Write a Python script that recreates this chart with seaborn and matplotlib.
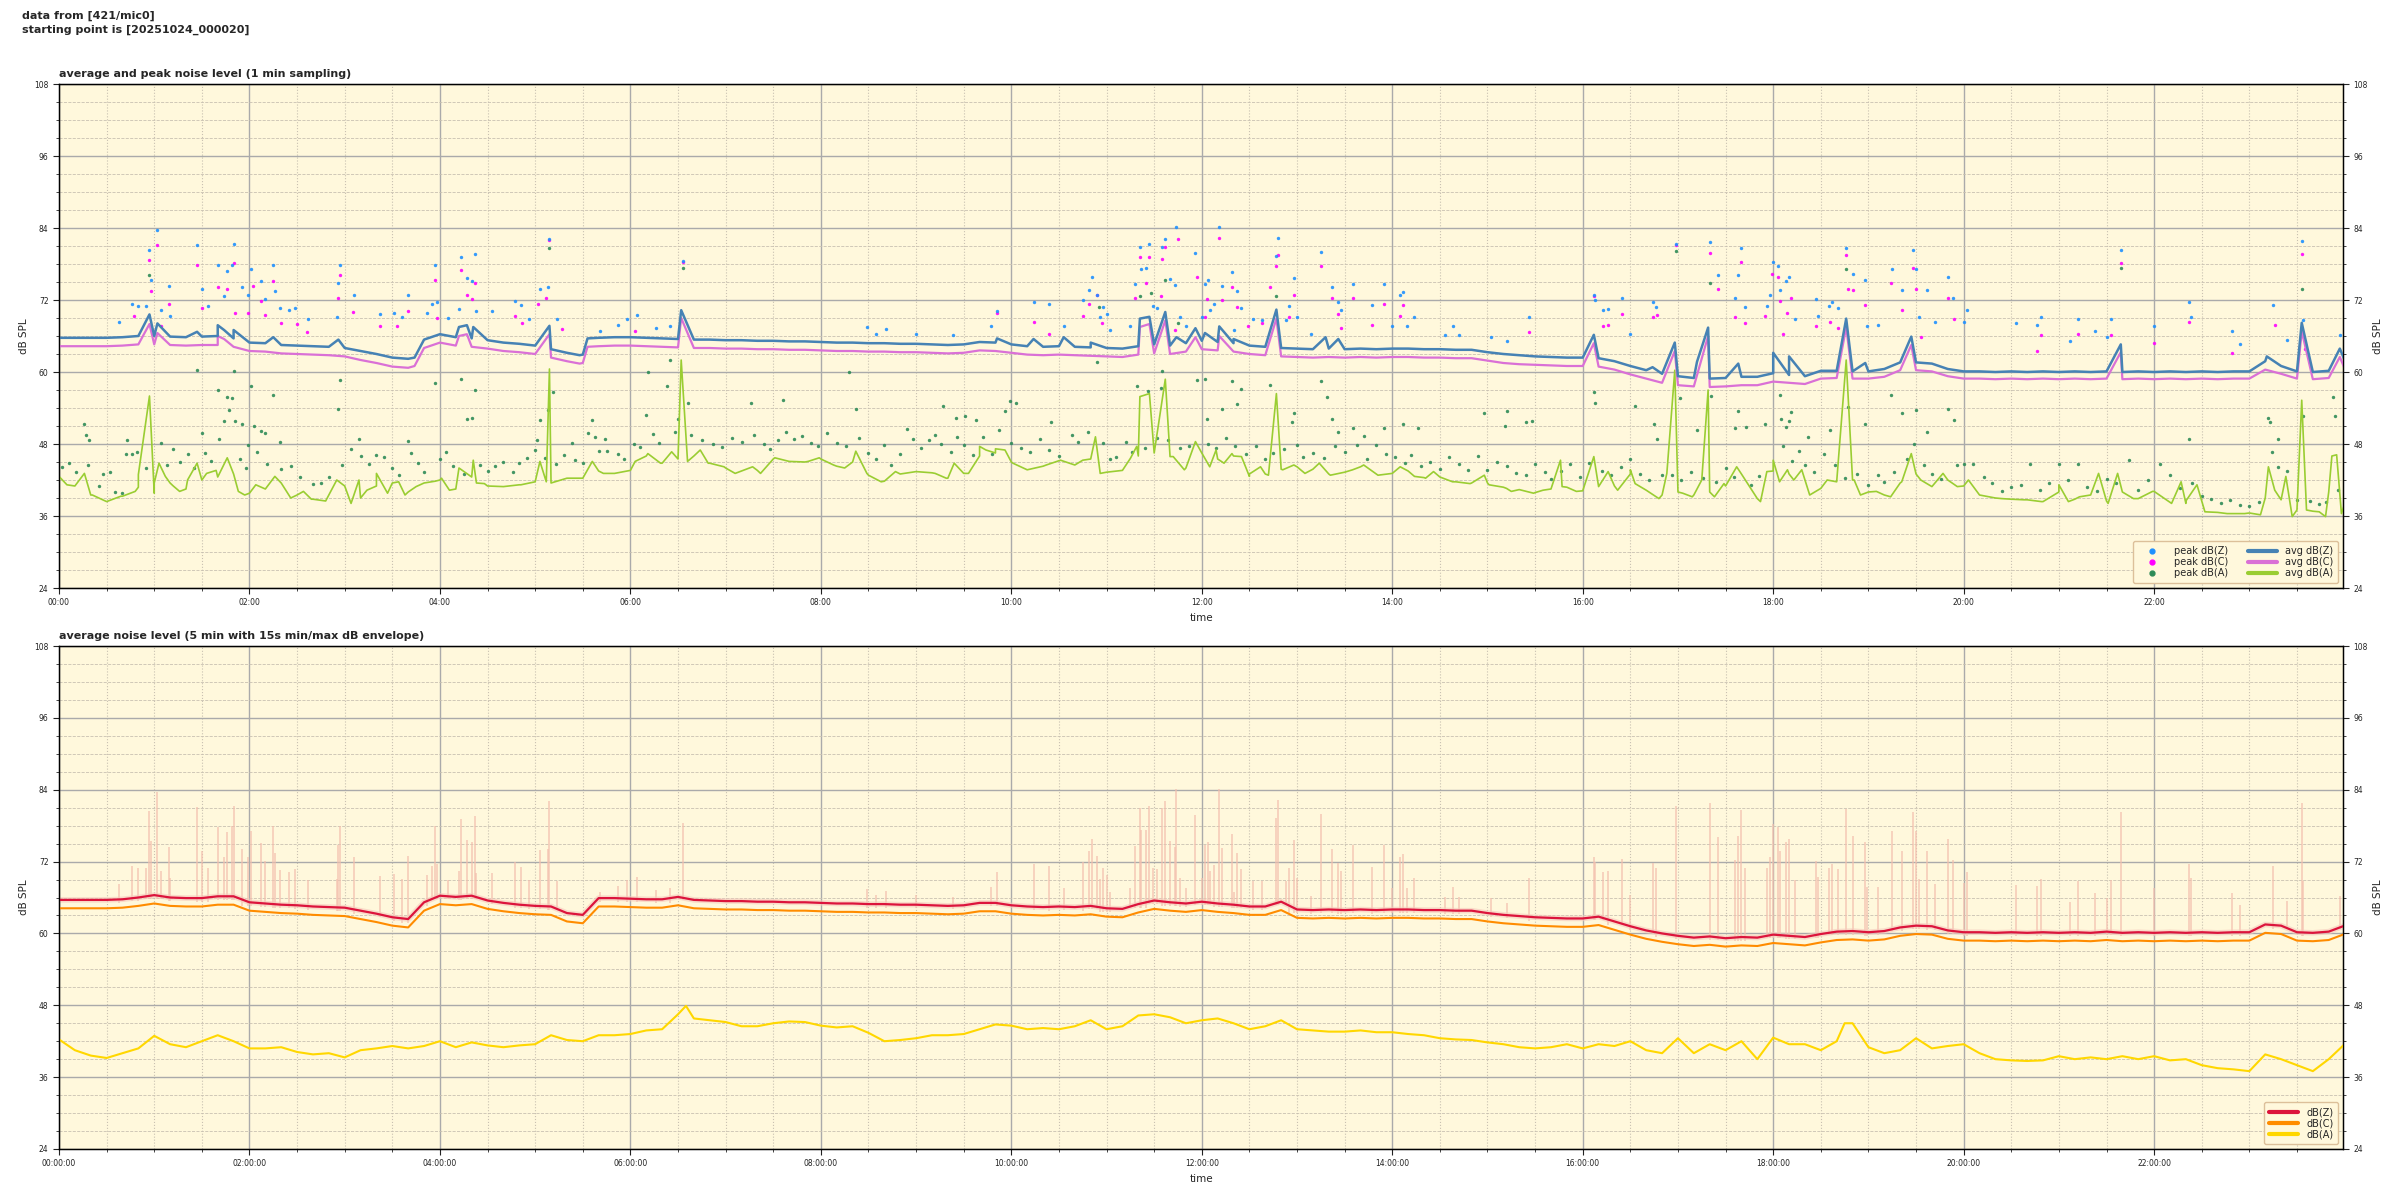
import numpy as np
import pandas as pd
import matplotlib
matplotlib.use("Agg")
import matplotlib.pyplot as plt
import seaborn as sns
from matplotlib.lines import Line2D
from matplotlib.ticker import MultipleLocator, FuncFormatter

# ---------------------------------------------------------------- data
# grid of minutes since the starting point (every 10 min)
GRID_T = list(range(0, 1441, 10))

# 1 min averages, read every 10 min (top panel)
AVG_Z = [65.7, 65.7, 65.7, 65.7, 65.8, 66.0, 66.0, 65.9, 65.8, 65.9,
         66.0, 65.6, 64.9, 64.8, 64.5, 64.4, 64.3, 64.2, 64.0, 63.5,
         63.0, 62.4, 62.2, 65.4, 66.3, 65.8, 65.6, 65.3, 64.9, 64.7,
         64.4, 63.8, 63.2, 62.9, 65.7, 65.8, 65.8, 65.7, 65.6, 65.5,
         65.4, 65.4, 65.3, 65.3, 65.2, 65.2, 65.1, 65.1, 65.0, 64.9,
         64.9, 64.8, 64.8, 64.7, 64.7, 64.6, 64.5, 64.6, 65.0, 64.9,
         64.6, 64.3, 64.2, 64.3, 64.2, 64.1, 64.0, 63.9, 64.3, 64.6,
         64.4, 64.8, 65.2, 65.0, 64.8, 64.4, 64.2, 64.0, 63.9, 63.8,
         63.9, 63.8, 63.9, 63.8, 63.9, 63.9, 63.8, 63.8, 63.7, 63.7,
         63.3, 63.0, 62.8, 62.6, 62.5, 62.4, 62.4, 62.3, 61.8, 61.0,
         60.3, 59.7, 59.3, 59.0, 58.9, 59.0, 59.2, 59.2, 59.8, 59.5,
         59.3, 60.2, 60.2, 60.1, 60.1, 60.5, 61.6, 61.6, 61.4, 60.5,
         60.1, 60.1, 60.0, 60.1, 60.0, 60.1, 60.0, 60.1, 60.0, 60.1,
         60.0, 60.1, 60.0, 60.1, 60.0, 60.1, 60.0, 60.1, 60.1, 61.8,
         61.0, 60.1, 60.0, 60.2, 62.0]
AVG_C = [64.3, 64.3, 64.3, 64.3, 64.4, 64.6, 64.6, 64.5, 64.4, 64.5,
         64.5, 64.2, 63.5, 63.4, 63.1, 63.0, 62.9, 62.8, 62.6, 62.0,
         61.5, 60.9, 60.7, 64.0, 64.9, 64.4, 64.2, 63.9, 63.5, 63.3,
         63.0, 62.4, 61.8, 61.5, 64.3, 64.4, 64.4, 64.3, 64.2, 64.1,
         64.0, 64.0, 63.9, 63.9, 63.8, 63.8, 63.7, 63.7, 63.6, 63.5,
         63.5, 63.4, 63.4, 63.3, 63.3, 63.2, 63.1, 63.2, 63.6, 63.5,
         63.2, 62.9, 62.8, 62.9, 62.8, 62.7, 62.6, 62.5, 62.9, 63.1,
         63.0, 63.4, 63.8, 63.6, 63.4, 63.0, 62.8, 62.6, 62.5, 62.4,
         62.5, 62.4, 62.5, 62.4, 62.5, 62.5, 62.4, 62.4, 62.3, 62.3,
         61.9, 61.5, 61.3, 61.2, 61.1, 61.0, 61.0, 60.9, 60.4, 59.6,
         58.9, 58.2, 57.8, 57.6, 57.5, 57.6, 57.8, 57.8, 58.4, 58.2,
         58.0, 58.9, 59.0, 58.9, 58.9, 59.2, 60.3, 60.3, 60.1, 59.3,
         58.9, 58.9, 58.8, 58.9, 58.8, 58.9, 58.8, 58.9, 58.8, 58.9,
         58.8, 58.9, 58.8, 58.9, 58.8, 58.9, 58.8, 58.9, 58.9, 60.4,
         59.7, 58.9, 58.8, 59.0, 60.6]
AVG_A = [42.6, 41.0, 39.5, 38.4, 39.3, 40.8, 41.5, 41.5, 40.5, 42.0,
         42.5, 43.0, 39.8, 40.5, 41.5, 39.5, 38.8, 39.5, 41.0, 39.0,
         41.0, 41.5, 40.0, 41.5, 42.0, 40.5, 42.5, 41.0, 40.9, 41.2,
         41.7, 41.5, 42.3, 42.3, 43.5, 43.1, 43.6, 46.0, 44.8, 45.5,
         46.0, 44.8, 44.0, 43.5, 43.6, 45.5, 45.1, 45.0, 45.5, 44.3,
         45.0, 42.8, 41.8, 43.0, 43.4, 43.2, 42.3, 43.1, 46.0, 46.5,
         45.0, 43.7, 44.3, 45.2, 44.5, 45.5, 43.3, 43.6, 46.0, 46.5,
         45.9, 44.0, 46.5, 45.5, 46.0, 43.0, 43.0, 43.8, 44.2, 43.8,
         43.0, 43.3, 44.2, 43.0, 43.1, 43.5, 42.4, 42.5, 41.7, 41.5,
         41.5, 40.8, 40.4, 39.9, 40.5, 40.8, 40.2, 40.9, 41.0, 43.0,
         40.3, 39.5, 40.0, 39.5, 40.0, 41.0, 43.0, 38.9, 43.5, 43.0,
         42.0, 40.6, 41.7, 42.0, 40.0, 39.5, 41.5, 43.0, 40.9, 42.0,
         41.0, 39.5, 39.0, 38.8, 38.7, 38.4, 40.0, 38.8, 39.5, 38.5,
         40.0, 38.9, 40.1, 38.3, 38.5, 38.5, 36.6, 36.4, 36.5, 39.0,
         38.7, 37.0, 36.8, 40.0, 38.0]

# short events in the 1 min averages (minute, dB)
SPIKE_Z = [(57, 69.6), (62, 68.1), (87, 66.7), (100, 67.8), (104, 67.0), (110, 67.0),
           (135, 65.8), (176, 65.4), (224, 62.4), (252, 67.5), (257, 67.8), (261, 67.5),
           (309, 67.7), (328, 62.8), (333, 65.6), (392, 70.3), (591, 65.6), (614, 65.5),
           (633, 65.8), (650, 64.9), (681, 68.9), (687, 69.2), (697, 70.0), (704, 65.8),
           (716, 67.3), (722, 66.5), (731, 67.6), (740, 65.5), (767, 70.4), (798, 65.8),
           (806, 65.5), (967, 66.2), (1004, 60.8), (1018, 64.9), (1032, 61.7), (1039, 67.4),
           (1058, 61.4), (1080, 63.2), (1090, 62.6), (1126, 68.9), (1138, 61.5), (1167, 65.9),
           (1299, 64.6), (1391, 62.6), (1413, 68.2), (1437, 63.9)]
SPIKE_C = [(57, 68.0), (62, 66.5), (100, 66.0), (104, 65.5), (224, 61.0), (252, 66.0),
           (257, 66.3), (309, 66.3), (328, 61.4), (333, 64.2), (392, 69.0), (681, 67.5),
           (687, 68.0), (697, 68.6), (716, 65.8), (731, 66.0), (767, 68.9), (967, 64.8),
           (1018, 63.5), (1039, 66.0), (1126, 67.5), (1167, 64.5), (1299, 63.3),
           (1413, 66.8), (1437, 62.5)]
SPIKE_A = [(16, 43.1), (57, 56.0), (63, 44.8), (87, 44.8), (106, 45.7), (252, 44.0),
           (261, 45.3), (303, 45.1), (309, 60.5), (336, 45.1), (392, 62.0), (502, 46.8),
           (580, 47.6), (584, 47.0), (590, 47.2), (596, 47.0), (653, 49.2), (681, 55.9),
           (687, 56.4), (697, 58.8), (716, 48.4), (767, 56.4), (946, 45.3), (967, 45.9),
           (1018, 60.3), (1039, 57.0), (1080, 45.3), (1126, 62.0), (1167, 46.4),
           (1392, 44.2), (1403, 42.6), (1413, 55.3), (1432, 46.0)]
# minute-to-minute ripple of the A-weighted average (minute, dB)
RIPPLE_A = [(5, 41.2), (21, 39.5), (39, 39.3), (48, 40.1), (50, 42.9), (60, 39.8), (67, 42.6),
            (72, 41.0), (76, 40.1), (81, 42.0), (93, 43.1), (99, 43.6), (113, 40.1),
            (117, 39.5), (124, 41.2), (136, 42.6), (146, 39.0), (154, 40.1), (159, 38.8),
            (168, 38.5), (175, 42.0), (184, 38.1), (189, 42.0), (194, 40.3), (200, 43.1),
            (207, 39.8), (214, 41.7), (218, 39.5), (225, 40.9), (237, 41.8), (241, 42.3),
            (246, 40.3), (263, 41.5), (268, 41.4), (279, 40.9), (291, 41.2), (307, 41.7),
            (343, 43.1), (363, 45.1), (371, 46.4), (379, 44.8), (386, 46.7), (396, 45.1),
            (404, 47.0), (409, 44.8), (419, 44.2), (426, 43.1), (437, 44.2), (442, 43.1),
            (451, 45.7), (472, 45.1), (479, 45.7), (488, 44.5), (495, 44.0), (509, 43.1),
            (518, 41.7), (527, 43.4), (552, 43.1), (559, 42.3), (564, 44.8), (573, 43.1),
            (601, 44.8), (622, 44.5), (631, 45.3), (645, 45.3), (656, 43.1), (670, 43.6),
            (675, 45.6), (679, 47.6), (702, 45.9), (709, 43.7), (725, 44.2), (729, 47.0),
            (734, 44.8), (739, 46.4), (745, 45.9), (750, 42.6), (757, 44.2), (762, 42.8),
            (771, 43.7), (778, 44.5), (785, 43.1), (794, 44.8), (801, 42.8), (815, 43.7),
            (822, 44.5), (831, 42.8), (845, 44.2), (854, 42.6), (861, 42.3), (866, 43.4),
            (878, 41.7), (889, 41.4), (898, 42.8), (901, 41.2), (912, 40.6), (915, 40.1),
            (929, 39.8), (935, 40.3), (947, 40.9), (956, 40.1), (976, 43.4), (982, 40.3),
            (990, 43.7), (993, 41.4), (1008, 38.9), (1013, 43.1), (1023, 39.8), (1029, 39.2),
            (1035, 42.0), (1043, 39.2), (1049, 41.4), (1057, 44.2), (1072, 38.4),
            (1076, 43.4), (1084, 41.7), (1089, 43.7), (1093, 42.0), (1098, 43.7),
            (1103, 39.5), (1114, 42.0), (1131, 42.0), (1135, 39.5), (1145, 40.1),
            (1154, 39.2), (1161, 41.7), (1173, 42.0), (1187, 43.1), (1196, 40.9),
            (1203, 42.0), (1224, 38.9), (1238, 38.7), (1249, 38.4), (1260, 41.2),
            (1266, 38.4), (1273, 39.2), (1285, 43.1), (1291, 38.1), (1297, 43.1),
            (1307, 38.9), (1319, 40.1), (1331, 38.1), (1337, 41.7), (1340, 38.1),
            (1347, 41.2), (1352, 36.7), (1366, 36.4), (1377, 36.4), (1387, 36.2),
            (1396, 40.3), (1407, 35.9), (1416, 37.0), (1424, 36.7), (1428, 35.9),
            (1435, 46.2), (1438, 36.4)]

# 1 min peak readings (minute, dB)
PEAK_Z = [(38, 68.3), (46, 71.3), (50, 71.0), (55, 71.0), (57, 80.4), (58, 75.4), (62, 83.6),
          (64, 70.4), (69, 74.4), (70, 69.3), (87, 81.1), (90, 73.8), (94, 71.0), (100, 77.8),
          (104, 72.7), (106, 76.9), (109, 77.9), (110, 81.3), (115, 74.1), (119, 72.8),
          (121, 77.1), (127, 75.1), (130, 72.1), (135, 77.9), (136, 73.5), (139, 70.6),
          (145, 70.3), (149, 70.7), (157, 68.9), (175, 69.1), (176, 74.8), (177, 77.9),
          (186, 72.8), (202, 69.6), (211, 69.9), (216, 69.1), (220, 72.9), (232, 69.8),
          (235, 71.3), (237, 77.9), (238, 71.6), (245, 69.0), (252, 70.5), (253, 79.1),
          (257, 75.6), (260, 75.2), (262, 79.6), (263, 70.1), (273, 70.1), (287, 71.9),
          (291, 71.1), (296, 68.9), (303, 73.9), (308, 74.1), (309, 82.1), (314, 68.8),
          (341, 66.9), (352, 67.9), (358, 68.9), (364, 69.5), (376, 67.3), (385, 67.6),
          (393, 78.5), (509, 67.5), (515, 66.4), (521, 67.1), (540, 66.4), (563, 66.1),
          (587, 67.7), (591, 70.2), (614, 71.6), (624, 71.3), (633, 67.6), (645, 72.0),
          (649, 73.7), (651, 75.8), (654, 72.9), (656, 69.1), (658, 70.9), (660, 69.7),
          (662, 67.0), (675, 67.6), (678, 74.6), (681, 80.9), (682, 77.2), (685, 77.3),
          (687, 81.3), (689, 71.0), (692, 70.7), (695, 80.9), (697, 82.1), (700, 75.5),
          (703, 74.5), (704, 84.1), (706, 69.2), (710, 67.6), (716, 79.8), (720, 69.2),
          (722, 74.7), (724, 75.3), (725, 70.4), (728, 71.4), (731, 84.2), (733, 74.3),
          (739, 76.6), (740, 67.0), (742, 73.5), (745, 70.7), (752, 68.8), (758, 68.7),
          (767, 79.3), (768, 82.3), (773, 68.7), (775, 71.0), (778, 75.6), (780, 69.2),
          (789, 66.3), (795, 80.0), (802, 74.1), (806, 71.7), (808, 70.4), (815, 74.7),
          (827, 71.1), (835, 74.7), (840, 67.6), (845, 72.8), (847, 73.3), (849, 67.6),
          (854, 69.2), (873, 66.1), (878, 67.7), (882, 66.1), (902, 65.9), (912, 65.1),
          (926, 69.2), (967, 72.8), (968, 72.0), (973, 70.3), (976, 70.5), (985, 72.4),
          (990, 66.4), (1004, 71.7), (1006, 70.9), (1019, 81.3), (1040, 81.7), (1045, 76.1),
          (1056, 72.3), (1058, 76.2), (1060, 80.6), (1062, 70.9), (1076, 71.0), (1078, 72.8),
          (1080, 78.3), (1083, 77.7), (1084, 73.7), (1088, 75.2), (1090, 75.8), (1094, 68.9),
          (1107, 72.1), (1108, 69.4), (1115, 71.0), (1117, 71.6), (1121, 70.7), (1126, 80.7),
          (1130, 76.3), (1138, 75.3), (1139, 67.7), (1146, 67.8), (1155, 77.1), (1161, 73.7),
          (1168, 80.3), (1170, 77.1), (1172, 69.1), (1177, 73.7), (1182, 68.3), (1190, 75.8),
          (1193, 72.3), (1202, 70.3), (1200, 68.4), (1233, 68.1), (1246, 67.9), (1249, 69.1),
          (1267, 65.2), (1272, 68.8), (1283, 66.8), (1290, 65.9), (1293, 68.9), (1299, 80.3),
          (1320, 67.6), (1342, 71.6), (1343, 69.2), (1369, 66.8), (1374, 64.7), (1395, 71.2),
          (1404, 65.4), (1413, 81.8), (1414, 68.7), (1437, 66.2)]
PEAK_C = [(47, 69.3), (57, 78.7), (58, 73.5), (62, 81.1), (64, 67.6), (69, 71.4), (87, 77.8),
          (90, 70.7), (100, 74.2), (106, 73.9), (110, 78.1), (111, 69.8), (119, 69.8),
          (122, 74.3), (127, 71.8), (130, 69.5), (135, 75.2), (140, 68.1), (150, 68.0),
          (156, 66.6), (176, 72.3), (177, 76.1), (185, 70.0), (202, 67.6), (213, 67.6),
          (220, 70.2), (237, 75.4), (238, 69.0), (253, 77.0), (257, 72.9), (260, 72.2),
          (262, 74.9), (287, 69.4), (292, 68.1), (302, 71.3), (307, 72.4), (309, 82.0),
          (317, 67.1), (363, 66.9), (393, 78.4), (591, 69.9), (614, 68.4), (624, 66.3),
          (645, 69.3), (649, 71.4), (654, 72.8), (657, 68.2), (678, 72.3), (681, 79.1),
          (685, 74.8), (687, 79.1), (694, 72.7), (695, 78.8), (697, 80.9), (703, 67.0),
          (705, 82.1), (717, 75.8), (722, 69.2), (723, 72.1), (731, 82.3), (733, 72.0),
          (739, 74.1), (742, 70.8), (749, 67.7), (758, 68.1), (763, 74.1), (767, 77.7),
          (768, 79.5), (775, 69.1), (778, 72.8), (795, 77.7), (802, 72.3), (806, 69.6),
          (808, 67.3), (815, 72.3), (827, 67.9), (835, 71.4), (845, 69.4), (847, 71.1),
          (926, 66.6), (967, 72.7), (973, 67.7), (976, 67.8), (985, 69.6), (1004, 69.2),
          (1007, 69.5), (1019, 81.2), (1040, 79.8), (1045, 73.8), (1056, 69.1),
          (1060, 78.3), (1062, 68.1), (1075, 69.4), (1079, 76.4), (1083, 75.8),
          (1084, 71.8), (1086, 66.3), (1089, 69.8), (1091, 72.4), (1107, 67.6),
          (1116, 68.4), (1121, 67.4), (1126, 79.5), (1127, 73.9), (1130, 73.6),
          (1138, 71.1), (1154, 74.8), (1161, 70.4), (1168, 77.3), (1170, 73.8),
          (1173, 65.9), (1190, 72.4), (1194, 68.9), (1246, 63.5), (1249, 66.2),
          (1272, 66.4), (1293, 66.2), (1299, 78.1), (1320, 64.8), (1342, 68.3),
          (1369, 63.1), (1396, 67.9), (1413, 79.7), (1415, 63.8)]
PEAK_A = [(16, 51.4), (17, 49.5), (19, 48.7), (43, 48.7), (57, 76.1), (64, 48.2), (87, 60.3),
          (90, 49.8), (100, 57.0), (101, 48.9), (104, 51.8), (106, 55.8), (107, 53.7),
          (109, 55.6), (110, 60.1), (111, 51.9), (115, 51.3), (119, 47.8), (121, 57.7),
          (123, 51.0), (127, 50.1), (130, 49.8), (135, 56.2), (139, 48.4), (176, 53.8),
          (177, 58.7), (189, 48.9), (220, 48.5), (237, 58.1), (253, 58.9), (257, 52.2),
          (260, 52.4), (262, 57.0), (301, 48.7), (303, 52.0), (308, 53.7), (309, 80.6),
          (311, 56.7), (323, 48.1), (333, 49.9), (336, 52.0), (338, 49.2), (344, 48.9),
          (370, 52.9), (371, 60.0), (383, 57.7), (385, 62.0), (390, 52.1), (393, 77.4),
          (396, 54.9), (436, 54.8), (456, 55.3), (498, 60.0), (502, 53.9), (557, 54.4),
          (565, 52.4), (571, 52.6), (578, 52.0), (596, 53.5), (599, 55.2), (603, 54.8),
          (625, 51.6), (654, 61.7), (655, 70.8), (679, 57.6), (681, 72.6), (686, 56.9),
          (688, 73.1), (694, 57.4), (695, 60.2), (697, 75.4), (705, 68.2), (717, 58.6),
          (722, 58.8), (723, 52.1), (733, 53.9), (739, 58.5), (742, 54.6), (745, 57.1),
          (763, 57.8), (767, 72.6), (777, 51.6), (778, 53.1), (795, 58.5), (799, 55.8),
          (802, 52.1), (806, 50.0), (815, 50.6), (822, 49.4), (835, 50.6), (847, 51.4),
          (856, 50.6), (898, 53.1), (911, 51.0), (912, 53.5), (924, 51.6), (928, 51.9),
          (967, 56.6), (968, 54.8), (993, 54.4), (1005, 51.4), (1007, 48.8), (1019, 80.1),
          (1021, 55.6), (1032, 50.4), (1040, 74.8), (1041, 56.0), (1056, 50.6),
          (1058, 53.5), (1063, 50.9), (1075, 51.3), (1084, 56.2), (1085, 52.1),
          (1088, 50.9), (1090, 51.9), (1091, 53.4), (1102, 49.1), (1116, 50.3),
          (1126, 77.1), (1127, 54.1), (1138, 51.3), (1154, 56.2), (1161, 53.1),
          (1169, 48.0), (1170, 53.7), (1177, 50.0), (1190, 53.8), (1194, 52.0),
          (1299, 77.3), (1342, 48.9), (1392, 52.4), (1393, 51.6), (1398, 48.9),
          (1413, 73.8), (1414, 52.7), (1433, 55.9), (1434, 52.7)]
# A-weighted peaks sitting close above the average
PEAK_A_LOW = [(2, 44.2), (6, 44.8), (11, 43.4), (18, 44.5), (25, 41.0), (28, 43.0), (32, 43.3),
              (35, 40.0), (40, 39.8), (42, 46.3), (46, 46.4), (49, 46.7), (55, 44.0), (68, 44.5),
              (72, 47.1), (76, 45.0), (81, 46.4), (85, 44.0), (92, 46.5), (96, 45.2),
              (114, 45.5), (118, 44.0), (125, 46.7), (131, 44.6), (140, 43.8), (146, 44.3),
              (152, 42.5), (160, 41.3), (165, 41.5), (170, 42.5), (178, 44.5), (184, 47.2),
              (190, 46.0), (195, 44.7), (200, 46.2), (205, 45.9), (210, 44.0), (214, 42.8),
              (222, 46.5), (226, 44.8), (230, 43.3), (240, 45.5), (244, 46.7), (248, 44.4),
              (255, 43.0), (265, 44.5), (270, 43.5), (275, 44.4), (280, 45.0), (286, 43.4),
              (290, 44.8), (295, 45.7), (300, 47.0), (306, 45.7), (313, 44.6), (318, 46.2),
              (325, 45.3), (330, 44.9), (340, 46.9), (345, 46.8), (352, 46.4), (356, 45.5),
              (362, 48.0), (366, 47.5), (374, 49.6), (378, 48.2), (388, 50.0), (398, 49.5),
              (405, 48.6), (412, 48.0), (418, 47.5), (424, 49.0), (430, 48.4), (438, 49.5),
              (444, 48.0), (448, 47.2), (453, 48.7), (458, 50.0), (463, 48.8), (468, 49.3),
              (474, 48.1), (478, 47.6), (484, 49.8), (490, 48.2), (496, 47.7), (504, 49.0),
              (510, 46.5), (515, 45.5), (520, 47.8), (524, 44.5), (530, 46.3), (534, 50.5),
              (538, 48.9), (543, 47.3), (548, 48.6), (552, 49.5), (556, 48.0), (562, 46.6),
              (566, 49.2), (570, 47.8), (576, 46.2), (582, 49.2), (588, 46.4), (592, 50.4),
              (600, 48.1), (606, 47.4), (612, 46.6), (618, 48.8), (624, 47.0), (630, 46.0),
              (638, 49.5), (642, 48.4), (648, 50.0), (658, 48.2), (662, 45.5), (666, 45.8),
              (672, 48.4), (676, 46.6), (684, 47.3), (692, 49.0), (699, 48.6), (706, 47.4),
              (712, 47.7), (724, 48.0), (729, 47.3), (735, 49.0), (741, 47.7), (748, 46.4),
              (754, 47.6), (760, 45.5), (765, 46.5), (772, 47.2), (780, 47.9), (784, 45.8),
              (790, 46.5), (797, 45.7), (804, 47.7), (810, 46.6), (818, 47.8), (824, 45.5),
              (830, 47.8), (836, 46.3), (842, 45.9), (848, 44.8), (852, 46.1), (858, 44.3),
              (864, 45.0), (870, 43.9), (876, 45.8), (882, 44.7), (888, 43.6), (894, 46.0),
              (900, 43.7), (906, 45.0), (912, 44.4), (918, 43.1), (924, 42.8), (930, 44.6),
              (936, 43.3), (940, 42.2), (946, 43.5), (952, 44.7), (958, 42.5), (964, 44.9),
              (972, 43.5), (978, 42.8), (984, 44.2), (990, 45.5), (996, 43.0), (1002, 42.0),
              (1010, 42.8), (1016, 42.8), (1022, 42.0), (1028, 43.3), (1036, 42.3),
              (1044, 41.6), (1050, 44.0), (1055, 42.5), (1066, 41.2), (1071, 42.7),
              (1086, 47.6), (1092, 45.2), (1096, 46.8), (1100, 44.5), (1106, 43.3),
              (1112, 46.4), (1119, 44.5), (1125, 42.3), (1133, 43.0), (1140, 41.2),
              (1146, 42.8), (1150, 41.7), (1156, 43.3), (1164, 45.5), (1175, 44.5),
              (1180, 43.0), (1186, 42.2), (1196, 44.5), (1200, 44.7), (1206, 44.6),
              (1213, 42.5), (1218, 41.5), (1224, 40.2), (1230, 40.8), (1236, 41.2),
              (1242, 44.6), (1248, 40.4), (1254, 41.5), (1260, 44.6), (1266, 42.0),
              (1272, 44.6), (1278, 40.8), (1284, 40.1), (1290, 42.2), (1296, 41.5),
              (1304, 45.4), (1310, 40.4), (1316, 42.0), (1324, 44.6), (1330, 42.8),
              (1336, 40.6), (1344, 41.5), (1350, 39.3), (1356, 38.9), (1362, 38.2),
              (1368, 38.6), (1374, 37.8), (1380, 37.6), (1386, 38.4), (1394, 46.6),
              (1398, 44.2), (1404, 43.5), (1410, 38.6), (1418, 38.5), (1424, 38.0),
              (1428, 38.4), (1436, 40.4)]

# 5 min averages, read every 10 min (bottom panel)
AVG5_Z = [65.6, 65.6, 65.6, 65.6, 65.7, 66.0, 66.4, 66.0, 65.9, 65.9,
          66.2, 66.2, 65.2, 65.0, 64.8, 64.7, 64.5, 64.4, 64.3, 63.8,
          63.3, 62.7, 62.4, 65.2, 66.3, 66.1, 66.3, 65.5, 65.1, 64.8,
          64.6, 64.5, 63.4, 63.1, 65.9, 65.9, 65.8, 65.7, 65.7, 66.1,
          65.6, 65.5, 65.4, 65.4, 65.3, 65.3, 65.2, 65.2, 65.1, 65.0,
          65.0, 64.9, 64.9, 64.8, 64.8, 64.7, 64.6, 64.7, 65.1, 65.1,
          64.7, 64.5, 64.4, 64.5, 64.4, 64.6, 64.2, 64.1, 64.9, 65.5,
          65.2, 65.0, 65.3, 65.0, 64.8, 64.5, 64.5, 65.3, 64.0, 63.9,
          64.0, 63.9, 64.0, 63.9, 64.0, 64.0, 63.9, 63.9, 63.8, 63.8,
          63.4, 63.1, 62.9, 62.7, 62.6, 62.5, 62.5, 62.8, 62.0, 61.2,
          60.5, 60.0, 59.6, 59.3, 59.5, 59.2, 59.4, 59.3, 59.8, 59.6,
          59.4, 59.9, 60.3, 60.4, 60.2, 60.4, 61.0, 61.3, 61.2, 60.5,
          60.2, 60.2, 60.1, 60.2, 60.1, 60.2, 60.1, 60.2, 60.1, 60.3,
          60.1, 60.2, 60.1, 60.2, 60.1, 60.2, 60.1, 60.2, 60.2, 61.5,
          61.3, 60.2, 60.1, 60.3, 61.3]
AVG5_C = [64.2, 64.2, 64.2, 64.2, 64.3, 64.6, 65.0, 64.6, 64.5, 64.5,
          64.8, 64.8, 63.8, 63.6, 63.4, 63.3, 63.1, 63.0, 62.9, 62.4,
          61.9, 61.3, 61.0, 63.8, 64.9, 64.7, 64.9, 64.1, 63.7, 63.4,
          63.2, 63.1, 62.0, 61.7, 64.5, 64.5, 64.4, 64.3, 64.3, 64.7,
          64.2, 64.1, 64.0, 64.0, 63.9, 63.9, 63.8, 63.8, 63.7, 63.6,
          63.6, 63.5, 63.5, 63.4, 63.4, 63.3, 63.2, 63.3, 63.7, 63.7,
          63.3, 63.1, 63.0, 63.1, 63.0, 63.2, 62.8, 62.7, 63.5, 64.1,
          63.8, 63.6, 63.9, 63.6, 63.4, 63.1, 63.1, 63.9, 62.6, 62.5,
          62.6, 62.5, 62.6, 62.5, 62.6, 62.6, 62.5, 62.5, 62.4, 62.4,
          62.0, 61.7, 61.5, 61.3, 61.2, 61.1, 61.1, 61.4, 60.6, 59.8,
          59.1, 58.6, 58.2, 57.9, 58.1, 57.8, 58.0, 57.9, 58.4, 58.2,
          58.0, 58.5, 58.9, 59.0, 58.8, 59.0, 59.6, 59.9, 59.8, 59.1,
          58.8, 58.8, 58.7, 58.8, 58.7, 58.8, 58.7, 58.8, 58.7, 58.9,
          58.7, 58.8, 58.7, 58.8, 58.7, 58.8, 58.7, 58.8, 58.8, 60.1,
          59.9, 58.8, 58.7, 58.9, 59.9]
AVG5_A = [42.3, 40.5, 39.6, 39.2, 40.0, 40.8, 42.9, 41.5, 41.0, 42.0,
          43.0, 42.0, 40.8, 40.8, 41.0, 40.2, 39.8, 40.0, 39.3, 40.5,
          40.8, 41.2, 40.8, 41.2, 42.0, 41.0, 41.8, 41.3, 41.0, 41.3,
          41.5, 43.0, 42.2, 42.0, 43.0, 43.0, 43.2, 43.8, 44.0, 46.5,
          45.8, 45.5, 45.2, 44.5, 44.5, 45.0, 45.3, 45.2, 44.6, 44.3,
          44.5, 43.4, 42.0, 42.2, 42.5, 43.0, 43.0, 43.2, 44.0, 44.8,
          44.6, 44.0, 44.2, 44.0, 44.5, 45.5, 44.0, 44.5, 46.3, 46.5,
          46.0, 45.0, 45.5, 45.8, 45.0, 44.0, 44.5, 45.5, 44.0, 43.8,
          43.6, 43.6, 43.8, 43.5, 43.5, 43.2, 43.0, 42.5, 42.3, 42.2,
          41.8, 41.5, 41.0, 40.8, 41.0, 41.5, 40.8, 41.5, 41.2, 42.0,
          40.5, 40.0, 42.5, 40.0, 41.5, 40.5, 42.0, 39.0, 42.6, 41.5,
          41.5, 40.5, 42.0, 45.0, 41.0, 40.0, 40.5, 42.5, 40.8, 41.2,
          41.5, 40.0, 39.0, 38.8, 38.7, 38.8, 39.5, 39.0, 39.3, 39.0,
          39.5, 39.0, 39.5, 38.8, 39.0, 38.0, 37.5, 37.3, 37.0, 39.8,
          39.0, 38.0, 37.0, 39.0, 41.5]
SPIKE5_A = [(395, 47.9), (1125, 45.0)]

TITLE = "data from [421/mic0]\nstarting point is [20251024_000020]"
TOP_TITLE = "average and peak noise level (1 min sampling)"
BOTTOM_TITLE = "average noise level (5 min with 15s min/max dB envelope)"

BG = "#fff8dc"
T_END = 1439


def line_frame(grid, *extras):
    t = list(GRID_T)
    v = list(grid)
    for extra in extras:
        t += [p[0] for p in extra]
        v += [p[1] for p in extra]
    return pd.DataFrame({"t": t, "db": v}).sort_values("t", kind="stable")


def point_frame(points):
    return pd.DataFrame(points, columns=["t", "db"])


def style_axes(ax, fmt):
    ax.set_facecolor(BG)
    ax.set_xlim(0, T_END)
    ax.set_ylim(24, 108)
    ax.xaxis.set_major_locator(MultipleLocator(120))
    ax.xaxis.set_minor_locator(MultipleLocator(30))
    ax.yaxis.set_major_locator(MultipleLocator(12))
    ax.yaxis.set_minor_locator(MultipleLocator(3))
    ax.xaxis.set_major_formatter(FuncFormatter(fmt))
    ax.grid(which="major", color="#aaaaaa", lw=1.0)
    ax.grid(which="minor", axis="y", color="#c9c1b1", ls="--", lw=0.6)
    ax.grid(which="minor", axis="x", color="#c9c1b1", ls=":", lw=0.8)
    ax.set_axisbelow(True)
    ax.tick_params(which="major", labelsize=5.5, length=4, width=0.8, colors="#222222")
    ax.tick_params(which="minor", length=2.5, width=0.6)
    for s in ax.spines.values():
        s.set_visible(True)
        s.set_color("black")
        s.set_linewidth(1.0)
    tw = ax.twinx()
    tw.set_ylim(24, 108)
    tw.yaxis.set_major_locator(MultipleLocator(12))
    tw.yaxis.set_minor_locator(MultipleLocator(3))
    tw.tick_params(which="major", labelsize=5.5, length=4, width=0.8)
    tw.tick_params(which="minor", length=2.5, width=0.6)
    tw.set_ylabel("dB SPL", fontsize=7.5, labelpad=4)
    for s in tw.spines.values():
        s.set_color("black")
    return tw


def hhmm(x, pos):
    return "%02d:%02d" % (int(x) // 60, int(x) % 60)


def hhmmss(x, pos):
    return "%02d:%02d:00" % (int(x) // 60, int(x) % 60)


sns.set_style("ticks")
plt.rcParams["font.family"] = ["DejaVu Sans"]

fig = plt.figure(figsize=(24, 12), dpi=100)
W, H = 2400.0, 1200.0
ax1 = fig.add_axes([59 / W, 1 - 588 / H, (2343 - 59) / W, (588 - 84) / H])
ax2 = fig.add_axes([59 / W, 1 - 1149 / H, (2343 - 59) / W, (1149 - 646) / H])

fig.text(22 / W, 1 - 11 / H, TITLE, ha="left", va="top", fontsize=8,
         fontweight="bold", linespacing=1.45)

# ---------------------------------------------------------------- top panel
style_axes(ax1, hhmm)
ax1.set_title(TOP_TITLE, loc="left", fontsize=8, fontweight="bold", pad=5)

dot = dict(s=6, marker="o", linewidth=0, alpha=0.9, legend=False, zorder=3)
sns.scatterplot(data=point_frame(PEAK_A_LOW), x="t", y="db", ax=ax1, color="seagreen", **dot)
sns.scatterplot(data=point_frame(PEAK_A), x="t", y="db", ax=ax1, color="seagreen", **dot)
sns.scatterplot(data=point_frame(PEAK_C), x="t", y="db", ax=ax1, color="magenta", **dot)
sns.scatterplot(data=point_frame(PEAK_Z), x="t", y="db", ax=ax1, color="dodgerblue", **dot)

sns.lineplot(data=line_frame(AVG_A, SPIKE_A, RIPPLE_A), x="t", y="db", ax=ax1,
             color="yellowgreen", lw=1.2, estimator=None, legend=False, zorder=4)
sns.lineplot(data=line_frame(AVG_C, SPIKE_C), x="t", y="db", ax=ax1, color="orchid",
             lw=1.6, estimator=None, legend=False, zorder=4)
sns.lineplot(data=line_frame(AVG_Z, SPIKE_Z), x="t", y="db", ax=ax1, color="steelblue",
             lw=1.8, estimator=None, legend=False, zorder=5)
ax1.set_xlim(0, T_END)
ax1.set_xlabel("time", fontsize=7.5)
ax1.set_ylabel("dB SPL", fontsize=7.5, labelpad=4)

handles1 = [
    Line2D([], [], ls="", marker="o", ms=3.5, color="dodgerblue", label="peak dB(Z)"),
    Line2D([], [], ls="", marker="o", ms=3.5, color="magenta", label="peak dB(C)"),
    Line2D([], [], ls="", marker="o", ms=3.5, color="seagreen", label="peak dB(A)"),
    Line2D([], [], lw=3, color="steelblue", label="avg dB(Z)"),
    Line2D([], [], lw=3, color="orchid", label="avg dB(C)"),
    Line2D([], [], lw=3, color="yellowgreen", label="avg dB(A)"),
]
leg1 = ax1.legend(handles=handles1, ncol=2, loc="lower right", fontsize=7, frameon=True,
                  facecolor=BG, edgecolor="#dcc09a", framealpha=1, borderaxespad=0.5,
                  labelspacing=0.1, handlelength=3, columnspacing=2.0, borderpad=0.5)
leg1.set_zorder(10)

# ---------------------------------------------------------------- bottom panel
style_axes(ax2, hhmmss)
ax2.set_title(BOTTOM_TITLE, loc="left", fontsize=8, fontweight="bold", pad=5)

# 15 s envelope: thin band round the Z line plus the short max excursions
env = point_frame(PEAK_Z)
base = [AVG5_Z[int(round(t / 10.0))] - 0.6 for t in env["t"]]
ax2.vlines(env["t"], base, env["db"], color="#f3bfae", alpha=0.7, lw=1.3, zorder=2)
sns.lineplot(data=line_frame(AVG5_Z), x="t", y="db", ax=ax2, color="#f5c9bb",
             lw=4, alpha=0.6, estimator=None, legend=False, zorder=2)

sns.lineplot(data=line_frame(AVG5_A, SPIKE5_A), x="t", y="db", ax=ax2, color="gold",
             lw=1.5, estimator=None, legend=False, zorder=4)
sns.lineplot(data=line_frame(AVG5_C), x="t", y="db", ax=ax2, color="darkorange",
             lw=1.5, estimator=None, legend=False, zorder=4)
sns.lineplot(data=line_frame(AVG5_Z), x="t", y="db", ax=ax2, color="crimson",
             lw=1.6, estimator=None, legend=False, zorder=5)
ax2.set_xlim(0, T_END)
ax2.set_xlabel("time", fontsize=7.5)
ax2.set_ylabel("dB SPL", fontsize=7.5, labelpad=4)

handles2 = [
    Line2D([], [], lw=3, color="crimson", label="dB(Z)"),
    Line2D([], [], lw=3, color="darkorange", label="dB(C)"),
    Line2D([], [], lw=3, color="gold", label="dB(A)"),
]
leg2 = ax2.legend(handles=handles2, loc="lower right", fontsize=7, frameon=True,
                  facecolor=BG, edgecolor="#dcc09a", framealpha=1, borderaxespad=0.5,
                  labelspacing=0.1, handlelength=3, borderpad=0.5)
leg2.set_zorder(10)

fig.savefig("out.png", dpi=100)
